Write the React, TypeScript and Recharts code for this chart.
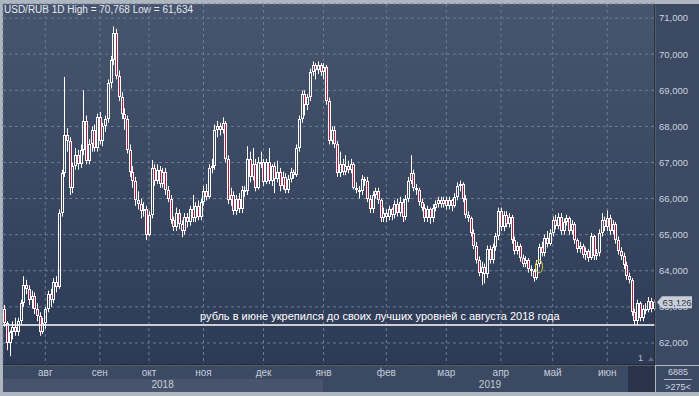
import React from "react";
import { ComposedChart, Bar, XAxis, YAxis, CartesianGrid, ReferenceLine, ReferenceDot } from "recharts";

// daily candles, [open, high, low, close]
const jul18 = [
  [62.95, 63.05, 62.45, 62.55], [62.55, 62.6, 61.8, 62.0], [62.0, 62.35, 61.634, 62.3], [62.3, 62.6, 62.1, 62.45],
  [62.45, 62.7, 62.2, 62.3], [62.3, 62.7, 62.2, 62.6], [62.6, 63.2, 62.5, 63.1], [63.1, 63.85, 63.0, 63.6],
  [63.6, 63.75, 63.35, 63.5], [63.5, 63.6, 63.05, 63.2], [63.2, 63.45, 62.95, 63.3], [63.3, 63.4, 62.8, 62.95],
  [62.95, 63.1, 62.6, 62.75], [62.75, 62.85, 62.2, 62.3], [62.3, 62.7, 62.25, 62.55],
];
const aug18 = [
  [62.55, 63.0, 62.4, 62.95], [62.95, 63.45, 62.85, 63.35], [63.35, 63.5, 63.0, 63.2], [63.2, 63.8, 63.1, 63.7],
  [63.7, 63.85, 63.4, 63.55], [63.55, 65.7, 63.5, 65.6], [65.6, 66.8, 65.5, 66.7], [66.7, 69.37, 66.6, 67.75],
  [67.75, 67.95, 67.3, 67.6], [67.6, 67.7, 66.1, 66.3], [66.3, 67.0, 66.15, 66.9], [66.9, 67.4, 66.8, 67.2],
  [67.2, 67.35, 66.8, 66.95], [66.95, 67.5, 66.85, 67.35], [67.35, 69.0, 67.2, 68.15], [68.15, 68.3, 66.95, 67.05],
  [67.05, 67.65, 66.95, 67.5], [67.5, 68.0, 67.3, 67.9], [67.9, 68.05, 67.3, 67.4], [67.4, 68.35, 67.3, 68.25],
];
const sep18 = [
  [68.25, 68.4, 67.5, 67.6], [67.6, 68.1, 67.45, 68.0], [68.0, 68.3, 67.85, 68.2], [68.2, 69.3, 68.1, 69.2],
  [69.2, 69.95, 69.05, 69.85], [69.85, 70.768, 69.7, 70.6], [70.6, 70.7, 69.3, 69.4], [69.4, 69.55, 68.7, 68.8],
  [68.8, 68.95, 68.2, 68.35], [68.35, 68.5, 67.9, 68.2], [68.2, 68.3, 67.25, 67.35], [67.35, 67.5, 66.6, 66.75],
  [66.75, 66.9, 66.3, 66.5], [66.5, 66.6, 65.8, 65.95], [65.95, 66.2, 65.7, 65.85], [65.85, 66.0, 65.45, 65.65],
  [65.65, 65.9, 65.5, 65.7], [65.7, 65.8, 64.85, 65.0],
];
const oct18 = [
  [65.0, 65.65, 64.95, 65.55], [65.55, 67.07, 65.45, 66.85], [66.85, 66.95, 66.35, 66.5], [66.5, 66.95, 66.4, 66.8],
  [66.8, 66.9, 66.3, 66.4], [66.4, 66.85, 66.3, 66.75], [66.75, 66.85, 66.1, 66.25], [66.25, 66.35, 65.9, 66.0],
  [66.0, 66.1, 65.3, 65.4], [65.4, 65.5, 65.1, 65.2], [65.2, 65.75, 65.1, 65.6], [65.6, 65.7, 65.15, 65.3],
  [65.3, 65.4, 64.93, 65.1], [65.1, 65.6, 65.0, 65.5], [65.5, 65.6, 65.2, 65.35], [65.35, 65.8, 65.25, 65.7],
  [65.7, 66.1, 65.35, 65.45], [65.45, 65.9, 65.35, 65.8], [65.8, 65.95, 65.4, 65.5], [65.5, 66.0, 65.4, 65.9],
];
const nov18 = [
  [65.9, 66.35, 65.8, 66.2], [66.2, 66.4, 65.95, 66.05], [66.05, 66.95, 66.0, 66.85], [66.85, 67.1, 66.7, 66.9],
  [66.9, 68.05, 66.8, 67.9], [67.9, 68.15, 67.7, 68.0], [68.0, 68.1, 67.75, 67.9], [67.9, 68.25, 67.8, 68.1],
  [68.1, 68.15, 67.0, 67.1], [67.1, 67.2, 65.85, 65.95], [65.95, 66.3, 65.8, 66.1], [66.1, 66.2, 65.55, 65.65],
  [65.65, 66.1, 65.55, 66.0], [66.0, 66.15, 65.6, 65.7], [65.7, 66.35, 65.6, 66.25], [66.25, 66.35, 66.05, 66.2],
  [66.2, 67.45, 66.1, 67.1], [67.1, 67.3, 66.45, 66.6], [66.6, 67.4, 66.5, 66.95], [66.95, 67.1, 66.2, 66.3],
  [66.3, 67.15, 66.25, 67.0], [67.0, 67.3, 66.85, 67.0],
];
const dec18 = [
  [67.0, 67.1, 66.35, 66.45], [66.45, 67.1, 66.4, 67.0], [67.0, 67.4, 66.4, 66.5], [66.5, 66.95, 66.35, 66.9],
  [66.9, 67.0, 66.15, 66.55], [66.55, 67.05, 66.45, 66.75], [66.75, 66.85, 66.2, 66.35], [66.35, 66.75, 66.25, 66.6],
  [66.6, 66.7, 66.15, 66.25], [66.25, 66.65, 66.15, 66.55], [66.55, 66.85, 66.45, 66.75], [66.75, 66.8, 66.55, 66.65],
  [66.65, 67.5, 66.6, 67.4], [67.4, 68.3, 67.3, 68.2], [68.2, 69.0, 68.1, 68.9], [68.9, 69.0, 68.3, 68.6],
  [68.6, 68.9, 68.45, 68.8], [68.8, 69.6, 68.7, 69.5], [69.5, 69.8, 69.4, 69.7], [69.7, 69.75, 69.3, 69.55],
  [69.55, 69.8, 69.45, 69.7], [69.7, 69.75, 69.4, 69.5],
];
const jan19 = [
  [69.5, 69.75, 69.3, 69.65], [69.65, 69.7, 68.6, 68.7], [68.7, 68.8, 67.5, 67.6], [67.6, 68.0, 67.5, 67.9],
  [67.9, 68.0, 67.4, 67.5], [67.5, 67.6, 66.6, 66.7], [66.7, 67.3, 66.6, 66.95], [66.95, 67.1, 66.65, 66.75],
  [66.75, 67.2, 66.65, 66.9], [66.9, 67.05, 66.7, 66.8], [66.8, 67.1, 66.7, 66.95], [66.95, 67.0, 66.25, 66.3],
  [66.3, 66.45, 66.15, 66.25], [66.25, 66.35, 66.0, 66.2], [66.2, 66.65, 66.1, 66.55], [66.55, 66.6, 66.35, 66.5],
  [66.5, 66.6, 65.9, 66.0], [66.0, 66.1, 65.6, 65.7], [65.7, 66.2, 65.6, 66.1], [66.1, 66.3, 66.0, 66.2],
  [66.2, 66.3, 65.85, 65.95], [65.95, 66.0, 65.35, 65.45], [65.45, 65.75, 65.35, 65.6],
];
const feb19 = [
  [65.6, 65.7, 65.35, 65.5], [65.5, 65.8, 65.4, 65.7], [65.7, 65.75, 65.4, 65.55], [65.55, 65.95, 65.45, 65.85],
  [65.85, 66.0, 65.5, 65.6], [65.6, 66.05, 65.5, 65.9], [65.9, 66.0, 65.35, 65.5], [65.5, 66.1, 65.4, 66.0],
  [66.0, 66.6, 65.9, 66.5], [66.5, 67.2, 66.4, 66.7], [66.7, 66.8, 66.2, 66.3], [66.3, 66.4, 66.1, 66.25],
  [66.25, 66.3, 65.8, 65.9], [65.9, 66.0, 65.65, 65.75], [65.75, 65.85, 65.35, 65.45], [65.45, 65.8, 65.35, 65.7],
  [65.7, 65.75, 65.3, 65.45], [65.45, 65.85, 65.35, 65.75], [65.75, 65.95, 65.65, 65.85], [65.85, 66.05, 65.75, 65.95],
  [65.95, 66.05, 65.75, 65.85], [65.85, 66.05, 65.75, 65.95],
];
const mar19 = [
  [65.95, 66.05, 65.7, 65.8], [65.8, 66.05, 65.7, 65.95], [65.95, 66.0, 65.65, 65.8], [65.8, 66.15, 65.75, 66.05],
  [66.05, 66.45, 65.95, 66.35], [66.35, 66.5, 66.2, 66.4], [66.4, 66.45, 65.9, 66.0], [66.0, 66.1, 65.45, 65.55],
  [65.55, 65.65, 65.35, 65.45], [65.45, 65.5, 64.95, 65.05], [65.05, 65.15, 64.6, 64.7], [64.7, 64.8, 64.2, 64.3],
  [64.3, 64.4, 63.85, 63.95], [63.95, 64.25, 63.6, 64.1], [64.1, 64.2, 63.65, 63.9], [63.9, 64.7, 63.8, 64.6],
  [64.6, 64.7, 64.2, 64.3], [64.3, 64.75, 64.2, 64.65], [64.65, 65.05, 64.55, 64.95], [64.95, 65.75, 64.85, 65.65],
];
const apr19 = [
  [65.65, 65.75, 65.1, 65.2], [65.2, 65.65, 65.1, 65.55], [65.55, 65.65, 65.2, 65.3], [65.3, 65.6, 65.2, 65.5],
  [65.5, 65.55, 64.75, 64.85], [64.85, 64.95, 64.45, 64.55], [64.55, 64.8, 64.45, 64.7], [64.7, 64.75, 64.25, 64.35],
  [64.35, 64.45, 64.1, 64.2], [64.2, 64.4, 64.1, 64.3], [64.3, 64.35, 63.95, 64.05], [64.05, 64.15, 63.85, 64.0],
  [64.0, 64.05, 63.7, 63.8], [63.8, 64.3, 63.75, 64.2], [64.2, 64.75, 64.1, 64.65], [64.65, 64.8, 64.4, 64.5],
  [64.5, 65.0, 64.4, 64.9], [64.9, 65.1, 64.65, 64.75], [64.75, 65.15, 64.7, 65.05],
];
const may19 = [
  [65.05, 65.5, 64.95, 65.4], [65.4, 65.55, 65.15, 65.25], [65.25, 65.6, 65.15, 65.5], [65.5, 65.6, 65.0, 65.1],
  [65.1, 65.45, 65.0, 65.35], [65.35, 65.55, 65.25, 65.45], [65.45, 65.5, 65.0, 65.1], [65.1, 65.4, 65.0, 65.3],
  [65.3, 65.35, 64.75, 64.85], [64.85, 64.9, 64.5, 64.6], [64.6, 64.8, 64.5, 64.7], [64.7, 64.75, 64.35, 64.45],
  [64.45, 64.65, 64.3, 64.55], [64.55, 64.6, 64.25, 64.35], [64.35, 65.05, 64.3, 64.95], [64.95, 65.0, 64.3, 64.4],
  [64.4, 64.6, 64.3, 64.5], [64.5, 65.15, 64.4, 65.05], [65.05, 65.6, 64.95, 65.4], [65.4, 65.5, 65.1, 65.2],
];
const jun19 = [
  [65.2, 65.67, 65.1, 65.45], [65.45, 65.55, 65.0, 65.1], [65.1, 65.4, 65.0, 65.3], [65.3, 65.35, 64.75, 64.85],
  [64.85, 64.95, 64.45, 64.55], [64.55, 64.65, 64.3, 64.4], [64.4, 64.5, 64.05, 64.15], [64.15, 64.25, 63.75, 63.85],
  [63.85, 63.95, 63.65, 63.75], [63.75, 63.8, 62.75, 62.85], [62.85, 62.95, 62.5, 62.6], [62.6, 63.2, 62.5, 63.1],
  [63.1, 63.15, 62.6, 62.7], [62.7, 63.05, 62.6, 62.95], [62.95, 63.1, 62.8, 62.9], [62.9, 63.27, 62.85, 63.15],
  [63.15, 63.25, 62.85, 62.95], [62.95, 63.2, 62.9, 63.126],
];

const monthBlocks = [
  { label: "", year: 2018, rows: jul18 },
  { label: "авг", year: 2018, rows: aug18 },
  { label: "сен", year: 2018, rows: sep18 },
  { label: "окт", year: 2018, rows: oct18 },
  { label: "ноя", year: 2018, rows: nov18 },
  { label: "дек", year: 2018, rows: dec18 },
  { label: "янв", year: 2019, rows: jan19 },
  { label: "фев", year: 2019, rows: feb19 },
  { label: "мар", year: 2019, rows: mar19 },
  { label: "апр", year: 2019, rows: apr19 },
  { label: "май", year: 2019, rows: may19 },
  { label: "июн", year: 2019, rows: jun19 },
];

const priceTicks = [62, 63, 64, 65, 66, 67, 68, 69, 70, 71];
const supportLevel = 62.5;
const lastPrice = 63.126;
const noteText = "рубль в июне укрепился до своих лучших уровней с августа 2018 года";
const titleText = "USD/RUB 1D High = 70,768 Low = 61,634";

// build the table
const data: any[] = [];
const monthTicks: number[] = [];
const monthLabel: Record<number, string> = {};
const yearRange: Record<number, number[]> = {};
monthBlocks.forEach((m) => {
  if (m.label) {
    monthTicks.push(data.length);
    monthLabel[data.length] = m.label;
  }
  m.rows.forEach((r) => {
    const i = data.length;
    if (!yearRange[m.year]) yearRange[m.year] = [i, i];
    yearRange[m.year][1] = i;
    data.push({ i, open: r[0], high: r[1], low: r[2], close: r[3], range: [r[2], r[1]] });
  });
});
const yearTicks: number[] = [];
const yearLabel: Record<number, string> = {};
Object.keys(yearRange).forEach((y) => {
  const [a, b] = yearRange[+y];
  const mid = Math.round((a + b) / 2);
  yearTicks.push(mid);
  yearLabel[mid] = y;
});

const fmt = (v: number) => v.toFixed(3).replace(".", ",");

const Candle = (props: any) => {
  const { x, y, width, height, payload } = props;
  if (!payload || height == null) return null;
  const { open, close, high, low } = payload;
  const k = high === low ? 0 : height / (high - low);
  const px = Math.round(x + width / 2) - 1;
  const yo = y + (high - open) * k;
  const yc = y + (high - close) * k;
  const top = Math.round(Math.min(yo, yc));
  const bot = Math.max(Math.round(Math.max(yo, yc)), top + 2);
  const down = close < open;
  return (
    <g>
      <line x1={px + 1.5} x2={px + 1.5} y1={y} y2={top} stroke="#ffffff" strokeWidth={1} />
      <line x1={px + 1.5} x2={px + 1.5} y1={bot} y2={y + height} stroke="#ffffff" strokeWidth={1} />
      <rect
        x={px + 0.5}
        y={top + 0.5}
        width={2}
        height={bot - top - 1}
        fill={down ? "#b5173f" : "none"}
        stroke="#ffffff"
        strokeWidth={1}
      />
    </g>
  );
};

const NoteLabel = (p: any) => {
  const vb = p.viewBox;
  return (
    <text x={vb.x + vb.width * 0.578} y={vb.y - 5} textAnchor="middle" fill="#ffffff" fontSize={11}>
      {noteText}
    </text>
  );
};

const PriceTag = (p: any) => {
  const vb = p.viewBox;
  const x0 = vb.x + vb.width + 2;
  const yy = vb.y;
  return (
    <g>
      <polygon
        points={`${x0},${yy} ${x0 + 5},${yy - 6} ${x0 + 35},${yy - 6} ${x0 + 35},${yy + 6} ${x0 + 5},${yy + 6}`}
        fill="#c9ced6"
      />
      <text x={x0 + 5.5} y={yy + 3.5} fill="#2a3446" fontSize={9.5}>
        {fmt(lastPrice)}
      </text>
    </g>
  );
};

const YellowMark = (p: any) => (
  <ellipse cx={p.cx} cy={p.cy} rx={3.5} ry={6.5} fill="none" stroke="#d6cf3a" strokeWidth={1} />
);

export default function App() {
  return (
    <div
      style={{
        position: "relative",
        width: 699,
        height: 396,
        background: "#aeb6c0",
        overflow: "hidden",
        fontFamily: '"Liberation Sans", Arial, sans-serif',
      }}
    >
      <style>{`body{margin:0}`}</style>
      {/* panels */}
      <div style={{ position: "absolute", left: 3, top: 4, width: 652, height: 361, background: "linear-gradient(#47556f, #2d3a55)" }} />
      <div style={{ position: "absolute", left: 656, top: 4, width: 43, height: 361, background: "#3c4963" }} />
      <div style={{ position: "absolute", left: 3, top: 366, width: 625, height: 26, background: "#3c4963" }} />
      <div style={{ position: "absolute", left: 3, top: 379, width: 320, height: 13, background: "#48546c" }} />
      <div style={{ position: "absolute", left: 628, top: 366, width: 27, height: 26, background: "#29334a" }} />
      <div style={{ position: "absolute", left: 656, top: 366, width: 43, height: 26, background: "#3c4963" }} />
      <div
        style={{
          position: "absolute",
          left: 4,
          top: 4,
          fontSize: 10,
          color: "#e6eaf0",
          whiteSpace: "nowrap",
        }}
      >
        {titleText}
      </div>
      <div style={{ position: "absolute", left: 664, top: 367, width: 28, fontSize: 9, color: "#d0d6e0", textAlign: "center", lineHeight: "11px" }}>
        <div style={{ borderBottom: "1px solid #aeb6c4", paddingBottom: 1 }}>6885</div>
        <div style={{ marginTop: 2 }}>&gt;275&lt;</div>
      </div>
      <div style={{ position: "absolute", left: 638, top: 353, fontSize: 9, color: "#b8c0cc" }}>1</div>
      <div
        style={{
          position: "absolute",
          left: 648,
          top: 357,
          width: 0,
          height: 0,
          borderLeft: "3px solid transparent",
          borderRight: "3px solid transparent",
          borderBottom: "4px solid #5f6b80",
        }}
      />
      <div style={{ position: "absolute", left: 0, top: 0 }}>
        <ComposedChart width={699} height={396} data={data} margin={{ top: 4, right: 0, left: 3, bottom: 0 }}>
          <CartesianGrid xAxisId="m" yAxisId="p" stroke="#6d7b94" strokeDasharray="3 3" />
          <XAxis
            xAxisId="m"
            dataKey="i"
            ticks={monthTicks}
            interval={0}
            height={14}
            tickFormatter={(v: number) => monthLabel[v] || ""}
            tick={{ fill: "#c4ccd8", fontSize: 10 }}
            tickLine={false}
            tickSize={0}
            tickMargin={4}
            axisLine={{ stroke: "#0b0e14" }}
          />
          <XAxis
            xAxisId="y"
            dataKey="i"
            ticks={yearTicks}
            interval={0}
            height={17}
            tickFormatter={(v: number) => yearLabel[v] || ""}
            tick={{ fill: "#c4ccd8", fontSize: 10 }}
            tickLine={false}
            tickSize={0}
            tickMargin={2}
            axisLine={false}
          />
          <YAxis
            yAxisId="p"
            orientation="right"
            width={44}
            domain={[61.39, 71.39]}
            allowDataOverflow
            ticks={priceTicks}
            interval={0}
            tickFormatter={fmt}
            tick={{ fill: "#c9d2de", fontSize: 9.5 }}
            tickLine={false}
            tickSize={0}
            tickMargin={4}
            axisLine={{ stroke: "#0b0e14" }}
          />
          <Bar xAxisId="m" yAxisId="p" dataKey="range" shape={Candle} isAnimationActive={false} />
          <ReferenceLine xAxisId="m" yAxisId="p" y={supportLevel} stroke="#ffffff" strokeWidth={1.5} label={NoteLabel} />
          <ReferenceLine xAxisId="m" yAxisId="p" y={lastPrice} stroke="none" label={PriceTag} />
          <ReferenceDot xAxisId="m" yAxisId="p" x={196} y={64.12} shape={YellowMark} />
        </ComposedChart>
      </div>
    </div>
  );
}
